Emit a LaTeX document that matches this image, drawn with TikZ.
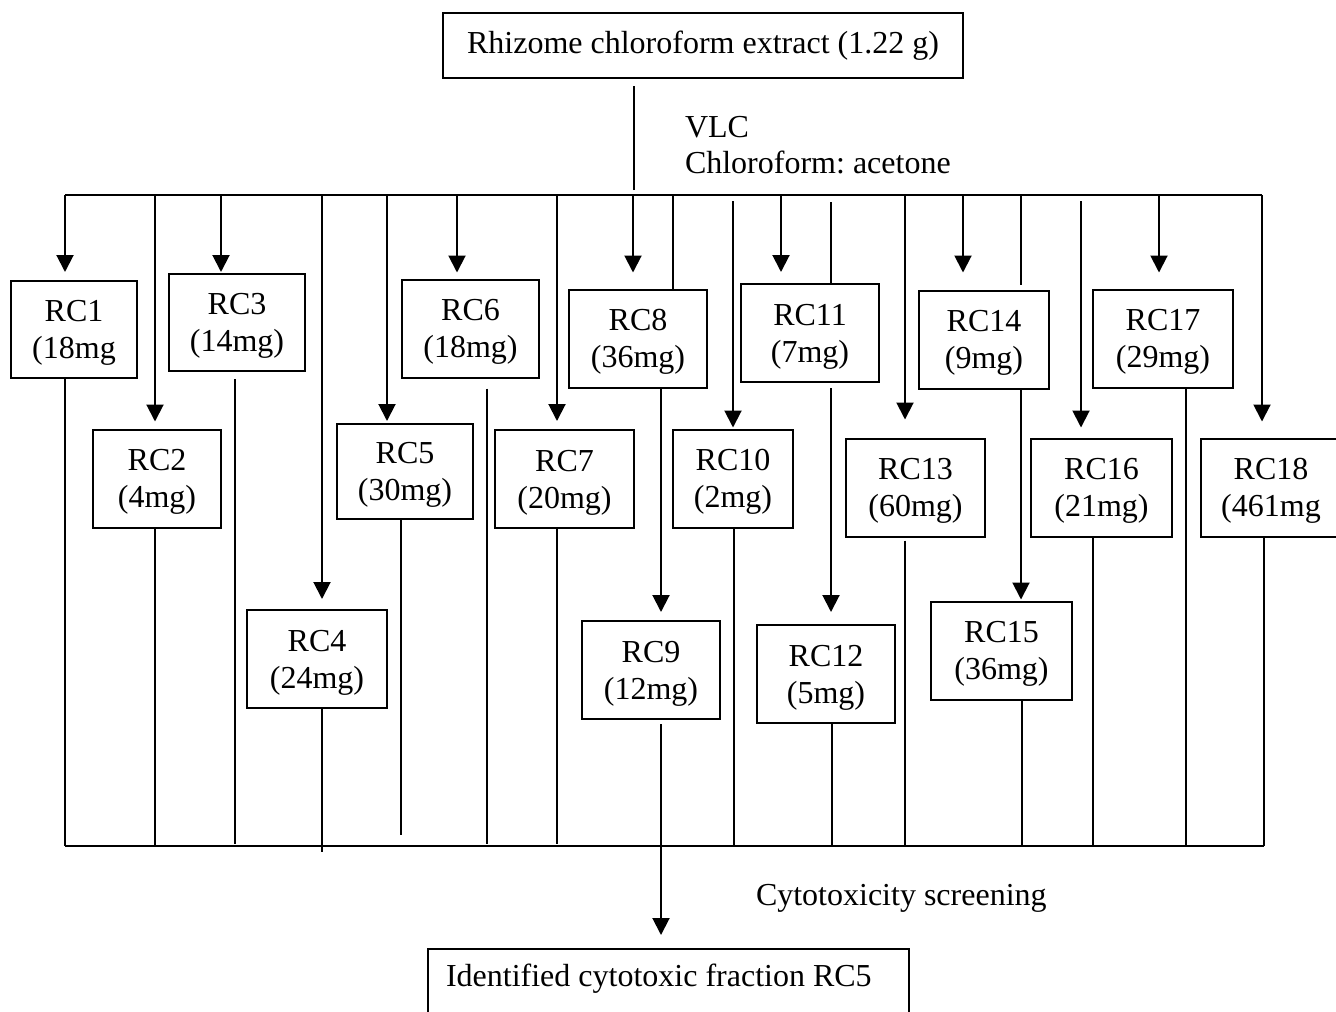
\documentclass[tikz,border=0pt]{standalone}
\usepackage{fontspec}
\setmainfont{Liberation Serif}
\usetikzlibrary{arrows.meta}
\frenchspacing

\begin{document}
\begin{tikzpicture}[x=1pt,y=-1pt,>={Triangle[length=17pt,width=17pt]},line width=2pt,
        box/.style={draw,align=center,inner sep=0pt,minimum height=98pt,text depth=0pt,font=\fontsize{32}{37}\selectfont},
        lbl/.style={font=\fontsize{32}{37}\selectfont,inner sep=0pt},
        gap/.style={shorten >=#1},
        thinline/.style={line width=1.2pt}]
  \useasboundingbox (0,0) rectangle (1336,1012);
  \node[box,minimum width=520pt,minimum height=65pt,text depth=7pt] (ext) at (703,45.5) {Rhizome chloroform extract (1.22 g)};
  \node[lbl,anchor=base west] (vlc) at (684,137) {VLC};
  \node[lbl,anchor=base west] (solv) at (684,173) {Chloroform: acetone};

  \node[box,minimum width=126pt,minimum height=97pt] (rc1) at (74,329.5) {RC1\\(18mg};
  \node[box,minimum width=128pt] (rc2) at (157,478.5) {RC2\\(4mg)};
  \node[box,minimum width=136pt,minimum height=97pt] (rc3) at (237,322.5) {RC3\\(14mg)};
  \node[box,minimum width=140pt] (rc4) at (317,659) {RC4\\(24mg)};
  \node[box,minimum width=136pt,minimum height=95pt] (rc5) at (405,471.5) {RC5\\(30mg)};
  \node[box,minimum width=137pt] (rc6) at (470.5,328.5) {RC6\\(18mg)};
  \node[box,minimum width=139pt] (rc7) at (564.5,479) {RC7\\(20mg)};
  \node[box,minimum width=138pt] (rc8) at (638,338.5) {RC8\\(36mg)};
  \node[box,minimum width=138pt] (rc9) at (651,670) {RC9\\(12mg)};
  \node[box,minimum width=120pt] (rc10) at (733,478.5) {RC10\\(2mg)};
  \node[box,minimum width=138pt] (rc11) at (810,333) {RC11\\(7mg)};
  \node[box,minimum width=138pt] (rc12) at (826,674) {RC12\\(5mg)};
  \node[box,minimum width=139pt] (rc13) at (915.5,487.5) {RC13\\(60mg)};
  \node[box,minimum width=130pt] (rc14) at (984,339.5) {RC14\\(9mg)};
  \node[box,minimum width=141pt] (rc15) at (1001.5,650.5) {RC15\\(36mg)};
  \node[box,minimum width=141pt] (rc16) at (1101.5,487.5) {RC16\\(21mg)};
  \node[box,minimum width=140pt] (rc17) at (1163,338.5) {RC17\\(29mg)};
  \node[box,minimum width=140pt] (rc18) at (1271,487.5) {RC18\\(461mg};

  \node[lbl,anchor=base west] (screen) at (755,905) {Cytotoxicity screening};
  \node[box,anchor=north west,minimum height=0pt,inner xsep=18pt,inner ysep=9pt,text width=445pt,
        align=flush left,text height=28pt,text depth=60pt] (ident) at (427,948) {Identified cytotoxic fraction RC5};

  % split from the extract
  \coordinate (split) at (634,190);
  \draw[thinline,shorten >=7pt] (split) -- (split |- ext.south);

  % top and bottom bus
  \path (65,195) coordinate (d1) (155,195) coordinate (d2) (221,195) coordinate (d3)
        (322,195) coordinate (d4) (387,195) coordinate (d5) (457,195) coordinate (d6)
        (557,195) coordinate (d7) (633,195) coordinate (d8) (673,195) coordinate (d9)
        (733,201) coordinate (d10) (781,195) coordinate (d11) (831,202) coordinate (d12)
        (905,195) coordinate (d13) (963,195) coordinate (d14) (1021,195) coordinate (d15)
        (1081,201) coordinate (d16) (1159,195) coordinate (d17) (1262,195) coordinate (d18);
  \path (65,846) coordinate (u1) (155,846) coordinate (u2) (235,844) coordinate (u3)
        (322,852) coordinate (u4) (401,835) coordinate (u5) (487,844) coordinate (u6)
        (557,844) coordinate (u7) (661,846) coordinate (u9) (734,846) coordinate (u10)
        (832,846) coordinate (u12) (905,846) coordinate (u13) (1022,846) coordinate (u15)
        (1093,846) coordinate (u16) (1186,846) coordinate (u17) (1264,846) coordinate (u18);
  \draw (d1) -- (d18);
  \draw (u1) -- (u18);

  \path[->]
    (d1) edge[gap=8pt] (d1 |- rc1.north)
    (d2) edge[gap=7pt] (d2 |- rc2.north)
    (d3) edge[gap=1pt] (d3 |- rc3.north)
    (d4) edge[gap=10pt] (d4 |- rc4.north)
    (d5) edge[gap=2pt] (d5 |- rc5.north)
    (d6) edge[gap=6pt] (d6 |- rc6.north)
    (d7) edge[gap=8pt] (d7 |- rc7.north)
    (d8) edge[gap=16pt] (d8 |- rc8.north)
    (d10) edge[gap=1pt] (d10 |- rc10.north)
    (d11) edge[gap=11pt] (d11 |- rc11.north)
    (d13) edge[gap=18pt] (d13 |- rc13.north)
    (d14) edge[gap=17pt] (d14 |- rc14.north)
    (d16) edge[gap=10pt] (d16 |- rc16.north)
    (d17) edge[gap=16pt] (d17 |- rc17.north)
    (d18) edge[gap=16pt] (d18 |- rc18.north)
    (u9 |- rc8.south) edge[gap=8pt] (u9 |- rc9.north)
    (d12 |- rc11.south) edge[gap=12pt,shorten <=5pt] (d12 |- rc12.north)
    (d15 |- rc14.south) edge[gap=1pt] (d15 |- rc15.north)
    (u9 |- rc9.south) edge[gap=13pt,shorten <=4pt] (u9 |- ident.north);
  \path
    (d9) edge (d9 |- rc8.north)
    (d12) edge (d12 |- rc11.north)
    (d15) edge[gap=5pt] (d15 |- rc14.north)
    (u1 |- rc1.south) edge (u1)
    (u2 |- rc2.south) edge (u2)
    (u3 |- rc3.south) edge[shorten <=7pt] (u3)
    (u4 |- rc4.south) edge (u4)
    (u5 |- rc5.south) edge (u5)
    (u6 |- rc6.south) edge[shorten <=10pt] (u6)
    (u7 |- rc7.south) edge (u7)
    (u10 |- rc10.south) edge (u10)
    (u12 |- rc12.south) edge (u12)
    (u13 |- rc13.south) edge[shorten <=3pt] (u13)
    (u15 |- rc15.south) edge (u15)
    (u16 |- rc16.south) edge (u16)
    (u17 |- rc17.south) edge (u17)
    (u18 |- rc18.south) edge (u18);
\end{tikzpicture}
\end{document}
